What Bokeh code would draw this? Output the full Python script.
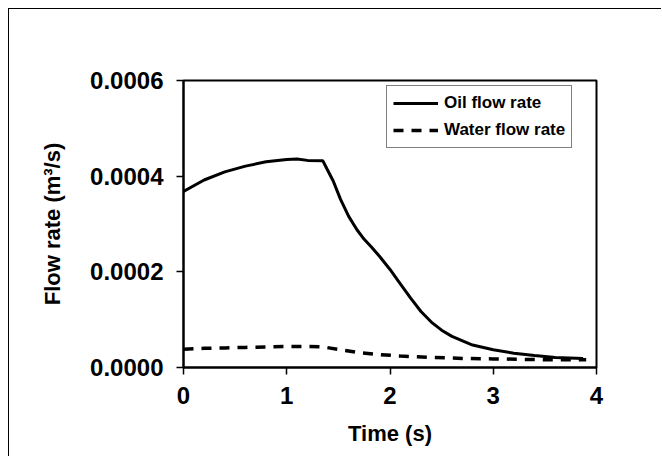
from bokeh.plotting import figure
from bokeh.models import Legend, LegendItem, Range1d, FixedTicker
from bokeh.embed import file_html
from bokeh.resources import INLINE

oil_t = [0.0, 0.2, 0.4, 0.6, 0.8, 1.0, 1.1, 1.2, 1.35, 1.39, 1.45, 1.52, 1.6, 1.68, 1.75,
         1.82, 1.9, 2.0, 2.1, 2.2, 2.3, 2.4, 2.5, 2.6, 2.8, 3.0, 3.2, 3.4, 3.6, 3.87]
oil_q = [0.000368, 0.000392, 0.000409, 0.000421, 0.000430, 0.000435, 0.000436, 0.000433,
         0.000432, 0.000415, 0.000390, 0.000352, 0.000316, 0.000288, 0.000268,
         0.000252, 0.000232, 0.000205, 0.000175, 0.000145, 0.000117, 0.000095, 0.000078,
         0.000065, 0.000047, 0.000037, 0.000030, 0.000025, 0.000021, 0.000019]
water_t = [0.0, 0.2, 0.4, 0.6, 0.8, 1.0, 1.2, 1.35, 1.5, 1.7, 1.9, 2.1, 2.4, 2.7, 3.0,
           3.3, 3.6, 3.9]
water_q = [0.000038, 0.000040, 0.000041, 0.000042, 0.000043, 0.000044, 0.000044, 0.000043,
           0.000038, 0.000031, 0.000027, 0.000024, 0.000021, 0.000019, 0.000018, 0.000017,
           0.000016, 0.000016]
x_ticks = [0, 1, 2, 3, 4]
y_ticks = [0.0, 0.0002, 0.0004, 0.0006]
y_labels = {0.0: "0.0000", 0.0002: "0.0002", 0.0004: "0.0004", 0.0006: "0.0006"}

FONT = "Liberation Sans"
OFF = 9  # outer page frame offset

p = figure(width=662 - OFF, height=457 - OFF, output_backend="svg", toolbar_location=None,
           x_range=Range1d(0, 4), y_range=Range1d(0, 0.0006),
           min_border_left=183 - OFF, min_border_right=66, min_border_top=80 - OFF,
           min_border_bottom=90)
p.styles = {"margin-left": "8px", "margin-top": "8px",
            "border-top": "1.5px solid black", "border-left": "1.5px solid black"}
p.grid.visible = False
p.background_fill_color = "white"
p.border_fill_color = "white"
p.outline_line_color = "black"
p.outline_line_width = 2

r_oil = p.line(oil_t, oil_q, line_color="black", line_width=3)
r_water = p.line(water_t, water_q, line_color="black", line_width=3.5, line_dash="10 8")

for ax in (p.xaxis[0], p.yaxis[0]):
    ax.axis_line_color = "black"
    ax.axis_line_width = 2
    ax.major_tick_line_width = 1.5
    ax.major_tick_in = 0
    ax.major_tick_out = 7
    ax.minor_tick_line_color = None
    ax.major_label_text_font = FONT
    ax.major_label_text_font_style = "bold"
    ax.major_label_text_font_size = "24px"
    ax.major_label_text_color = "black"
    ax.axis_label_text_font = FONT
    ax.axis_label_text_font_style = "bold"
    ax.axis_label_text_font_size = "22px"
    ax.axis_label_text_color = "black"

p.xaxis.ticker = FixedTicker(ticks=x_ticks)
p.yaxis.ticker = FixedTicker(ticks=y_ticks)
p.yaxis.major_label_overrides = y_labels
p.xaxis.axis_label = "Time (s)"
p.yaxis.axis_label = "Flow rate (m\u00b3/s)"
p.xaxis.major_label_standoff = 12
p.yaxis.major_label_standoff = 13
p.xaxis.axis_label_standoff = 14
p.yaxis.axis_label_standoff = 22

legend = Legend(items=[LegendItem(label="Oil flow rate", renderers=[r_oil]),
                       LegendItem(label="Water flow rate", renderers=[r_water])],
                location=(203, 219))
legend.border_line_color = "black"
legend.border_line_width = 1.5
legend.background_fill_color = "white"
legend.label_text_font = FONT
legend.label_text_font_style = "bold"
legend.label_text_font_size = "17px"
legend.label_text_color = "black"
legend.glyph_width = 45
legend.glyph_height = 22
legend.label_height = 22
legend.label_standoff = 6
legend.spacing = 5
legend.padding = 6
legend.margin = 0
p.add_layout(legend, "center")

open("out.html", "w").write(file_html(p, INLINE))
